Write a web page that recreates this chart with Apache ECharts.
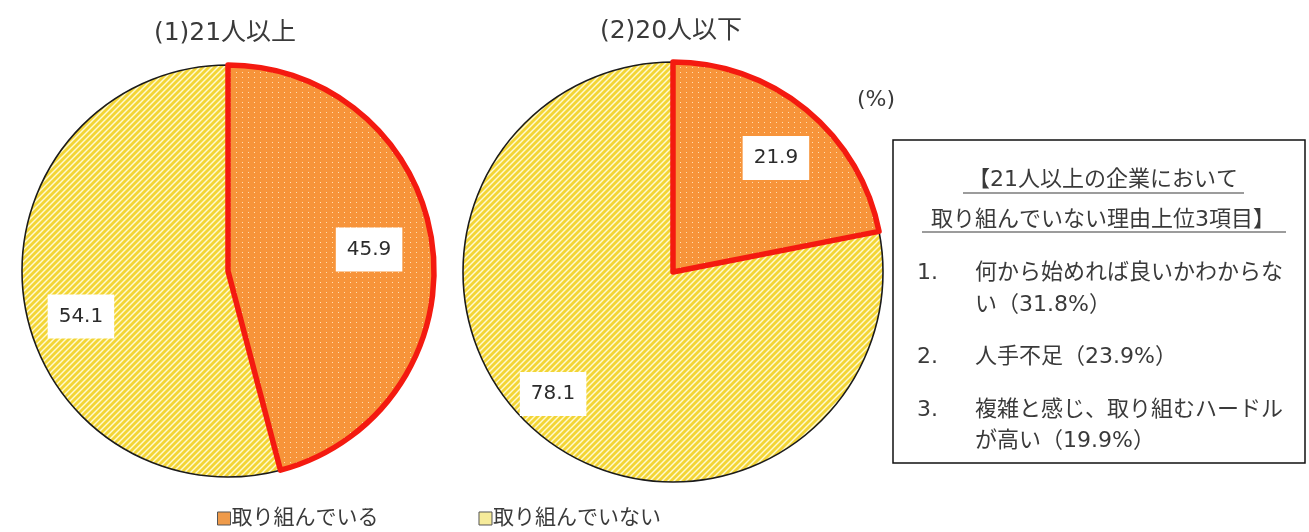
<!DOCTYPE html>
<html>
<head>
<meta charset="utf-8">
<script src="https://cdn.jsdelivr.net/npm/echarts@6/dist/echarts.min.js"></script>
<style>
  html, body { margin: 0; padding: 0; background: #fff; }
  #chart { width: 1309px; height: 532px; }
</style>
</head>
<body>
<div id="chart"></div>
<script>
// Categories and shares (%) for the two company-size groups
const categories = ['取り組んでいる', '取り組んでいない'];
const groupTitles = ['(1)21人以上', '(2)20人以下'];
const large = [45.9, 54.1];   // 21人以上
const small = [21.9, 78.1];   // 20人以下

// Side note: top three reasons among larger firms not taking action
const noteHeading = ['【21人以上の企業において', '取り組んでいない理由上位3項目】'];
const reasonNumbers = ['1.', '2.', '3.'];
const reasonLines = [
  ['何から始めれば良いかわからな', 'い（31.8%）'],
  ['人手不足（23.9%）'],
  ['複雑と感じ、取り組むハードル', 'が高い（19.9%）']
];

const FONT = '"DejaVu Sans", "Noto Sans CJK JP", sans-serif';
const TEXT = '#3a3a3a';

// Fill patterns: white-dotted orange, diagonal-striped yellow
function dotPattern() {
  const c = document.createElement('canvas');
  c.width = 6; c.height = 5;
  const g = c.getContext('2d');
  g.fillStyle = '#F7943A';
  g.fillRect(0, 0, 6, 5);
  g.fillStyle = 'rgba(255,236,200,0.85)';
  g.fillRect(2, 2, 1, 1);
  return c;
}
function stripePattern() {
  const c = document.createElement('canvas');
  c.width = 6; c.height = 6;
  const g = c.getContext('2d');
  g.fillStyle = '#FFFAD2';
  g.fillRect(0, 0, 6, 6);
  g.strokeStyle = '#F3D536';
  g.lineWidth = 2.8;
  [[0, 6, 6, 0], [-6, 6, 6, -6], [0, 12, 12, 0]].forEach(([x1, y1, x2, y2]) => {
    g.beginPath(); g.moveTo(x1, y1); g.lineTo(x2, y2); g.stroke();
  });
  return c;
}
const orangeFill = { image: dotPattern(), repeat: 'repeat' };
const yellowFill = { image: stripePattern(), repeat: 'repeat' };

// Slices listed "not" first and laid out counter-clockwise, so the
// red-outlined slice sits clockwise from 12 o'clock and is drawn on top.
function sliceData(values) {
  return [
    { name: categories[1], value: values[1],
      itemStyle: { color: yellowFill, borderColor: '#1b1b1b', borderWidth: 1.6 } },
    { name: categories[0], value: values[0],
      itemStyle: { color: orangeFill, borderColor: '#F41A10', borderWidth: 5.5 } }
  ];
}
// label nudges (px) for [not, doing] per pie
function labelData(values, nudge) {
  return [
    { name: categories[1], value: values[1], label: { offset: nudge[0] } },
    { name: categories[0], value: values[0], label: { offset: nudge[1] } }
  ];
}

function pieSeries(values, center, r, nudge) {
  return [
    {
      type: 'pie', center: center, radius: r,
      startAngle: 90, clockwise: false, silent: true,
      label: { show: false }, labelLine: { show: false },
      emphasis: { disabled: true },
      data: sliceData(values)
    },
    {
      // transparent ring only carries the value labels at ~0.72 r
      type: 'pie', center: center, radius: [r * 0.44, r],
      startAngle: 90, clockwise: false, silent: true,
      itemStyle: { color: 'rgba(0,0,0,0)', borderWidth: 0 },
      emphasis: { disabled: true },
      labelLine: { show: false },
      label: {
        show: true, position: 'inside',
        formatter: p => p.value.toFixed(1),
        fontFamily: FONT, fontSize: 20, color: '#2b2b2b',
        backgroundColor: '#ffffff', padding: [13, 11, 11, 11]
      },
      data: labelData(values, nudge)
    }
  ];
}

const chart = echarts.init(document.getElementById('chart'), null, { renderer: 'canvas' });

const noteFont = '22px ' + FONT;
const noteGraphics = [
  { type: 'rect', shape: { x: 893, y: 140, width: 412, height: 323 },
    style: { fill: '#fff', stroke: '#111', lineWidth: 1.5 } },
  { type: 'text', style: { text: noteHeading[0], x: 1103, y: 180, align: 'center', verticalAlign: 'middle',
      font: noteFont, fill: TEXT } },
  { type: 'line', shape: { x1: 963, y1: 193, x2: 1244, y2: 193 }, style: { stroke: TEXT, lineWidth: 1.2 } },
  { type: 'text', style: { text: noteHeading[1], x: 1103, y: 220, align: 'center', verticalAlign: 'middle',
      font: noteFont, fill: TEXT } },
  { type: 'line', shape: { x1: 922, y1: 232, x2: 1286, y2: 232 }, style: { stroke: TEXT, lineWidth: 1.2 } }
];
const reasonY = [[273, 305], [357], [410, 441]];
reasonNumbers.forEach((num, i) => {
  noteGraphics.push({ type: 'text', style: { text: num, x: 917, y: reasonY[i][0], verticalAlign: 'middle',
    font: noteFont, fill: TEXT } });
  reasonLines[i].forEach((line, j) => {
    noteGraphics.push({ type: 'text', style: { text: line, x: 975, y: reasonY[i][j], verticalAlign: 'middle',
      font: noteFont, fill: TEXT } });
  });
});
noteGraphics.push({ type: 'text', style: { text: '(%)', x: 876, y: 100, align: 'center', verticalAlign: 'middle',
  font: '22px ' + FONT, fill: TEXT } });

const titleStyle = { fontFamily: FONT, fontSize: 25, fontWeight: 'normal', color: TEXT };

chart.setOption({
  animation: false,
  backgroundColor: '#ffffff',
  title: [
    { text: groupTitles[0], left: 220, top: 16, textAlign: 'center', textStyle: titleStyle },
    { text: groupTitles[1], left: 666, top: 14, textAlign: 'center', textStyle: titleStyle }
  ],
  legend: {
    left: 212, top: 503, icon: 'rect', itemWidth: 13, itemHeight: 13, itemGap: 100,
    selectedMode: false,
    textStyle: { fontFamily: FONT, fontSize: 21, color: TEXT, padding: [0, 0, 0, -4] },
    data: [
      { name: categories[0], itemStyle: { color: '#EE9A4A', borderColor: '#555', borderWidth: 1 } },
      { name: categories[1], itemStyle: { color: '#F6EB9A', borderColor: '#555', borderWidth: 1 } }
    ]
  },
  graphic: noteGraphics,
  series: [
    ...pieSeries(large, [228, 271], 206, [[3, 26], [-9, -2]]),
    ...pieSeries(small, [673, 272], 210, [[-22, 3], [5, 5]])
  ]
});
</script>
</body>
</html>
